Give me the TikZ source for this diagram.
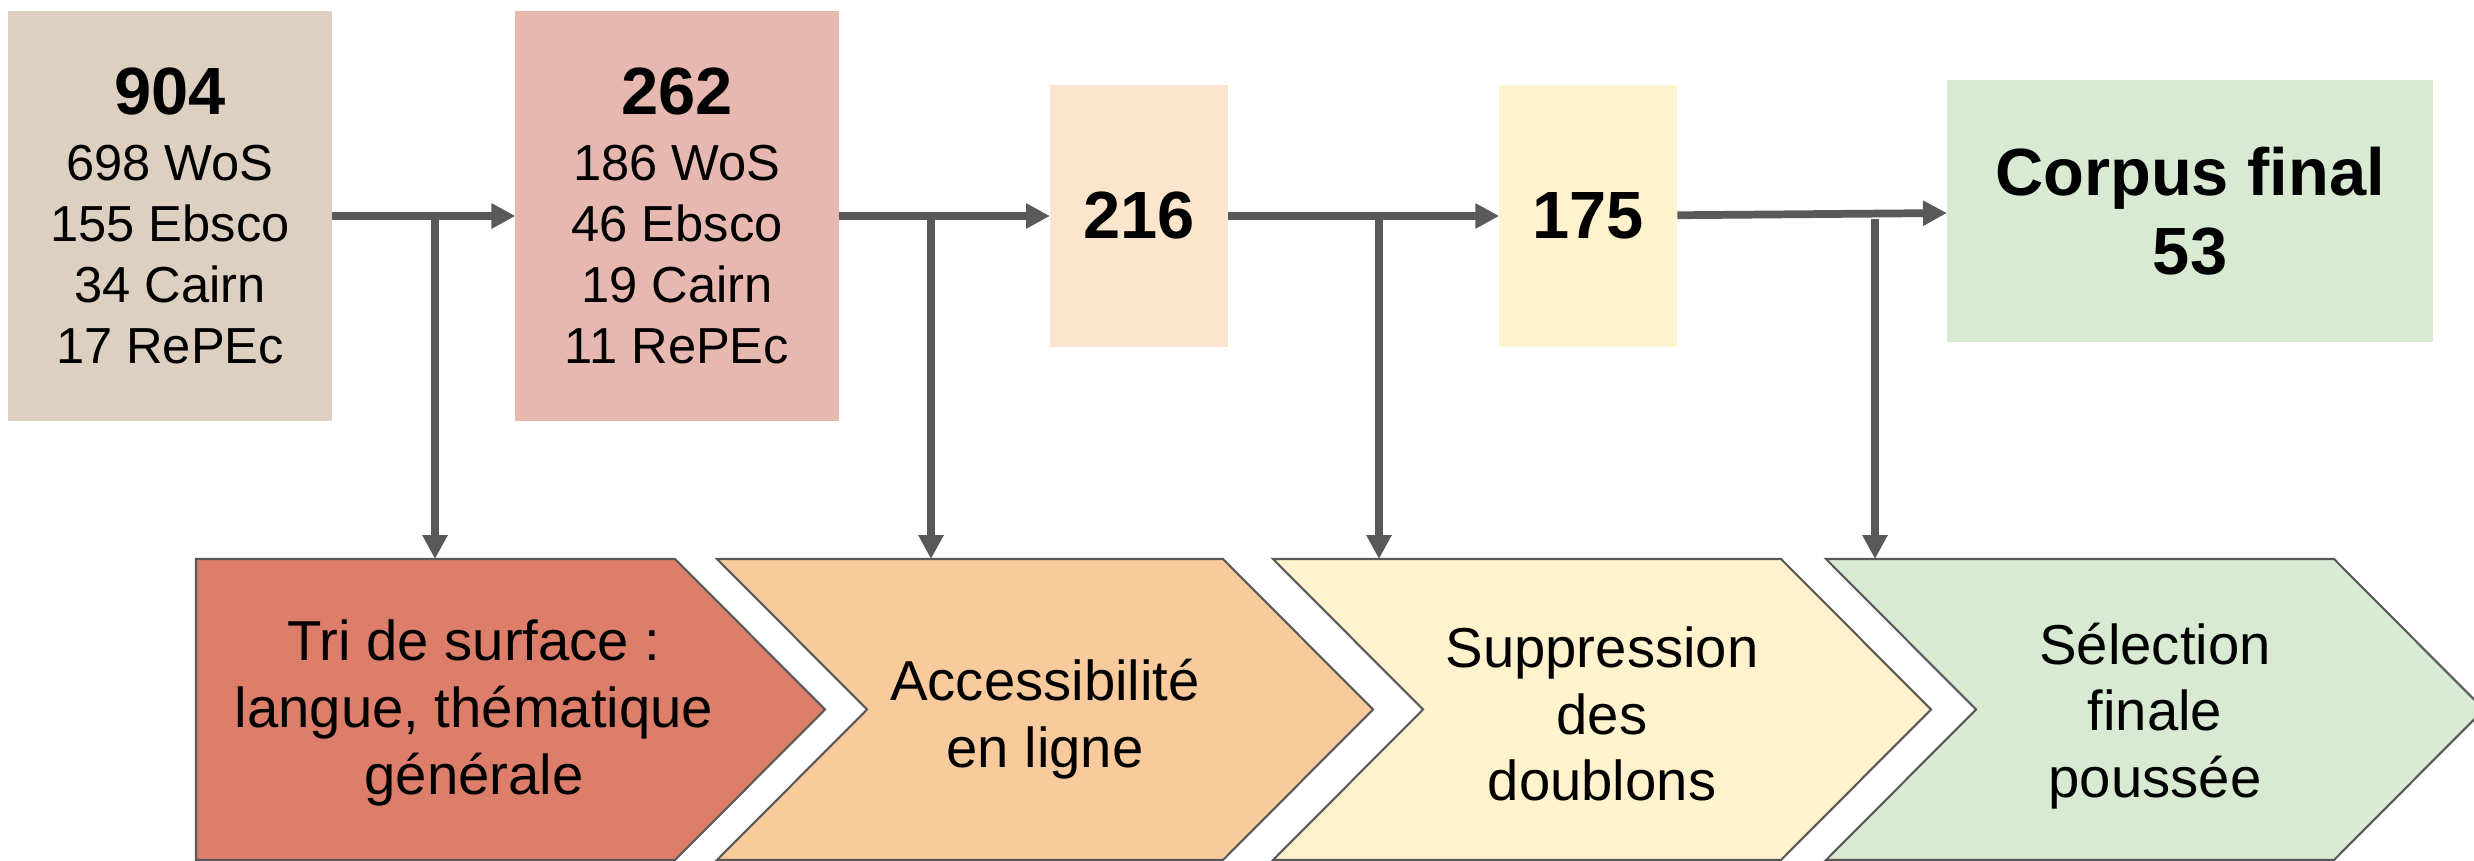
\documentclass[tikz,border=0pt]{standalone}
\usepackage{fontspec}
\setmainfont{Liberation Sans}
\usetikzlibrary{positioning,arrows.meta}
\definecolor{arrowgray}{HTML}{595959}
\definecolor{sand}{HTML}{DDD0C0}
\definecolor{berry}{HTML}{E6B8AF}
\definecolor{peach}{HTML}{FCE5CD}
\definecolor{cream}{HTML}{FFF2CC}
\definecolor{mint}{HTML}{D9EAD3}
\definecolor{brick}{HTML}{DD7E6B}
\definecolor{apricot}{HTML}{F9CB9C}

\begin{document}
\begin{tikzpicture}[x=0.01cm,y=-0.01cm,
		countbox/.style={rectangle,inner sep=0pt,outer sep=0pt,align=center,font=\fontsize{14.4}{17.4}\selectfont},
		bignum/.style={font=\fontsize{19}{22.5}\selectfont\bfseries},
		flow/.style={draw=arrowgray,line width=2.2pt,-{Triangle[length=6.8pt,width=6.8pt]}},
		stage/.style={draw=arrowgray,line width=0.6pt},
		stagetext/.style={align=center,font=\fontsize{16}{19}\selectfont}]
		\useasboundingbox (0,0) rectangle (2474,861);
		%%%%%%%%%%%%%%%%% counts %%%%%%%%%%%%%%%%%%%
		\node[countbox,fill=sand,minimum width=3.23cm,minimum height=4.1cm] (n904) at (170,216)
		{{\fontsize{19}{19}\selectfont\bfseries 904}\\[1.3pt]698 WoS\\155 Ebsco\\34 Cairn\\17 RePEc};
		\node[countbox,fill=berry,minimum width=3.23cm,minimum height=4.1cm] (n262) at (677,216)
		{{\fontsize{19}{19}\selectfont\bfseries 262}\\[1.3pt]186 WoS\\46 Ebsco\\19 Cairn\\11 RePEc};
		\node[countbox,bignum,fill=peach,minimum width=1.78cm,minimum height=2.62cm] (n216) at (1139,216) {216};
		\node[countbox,bignum,fill=cream,minimum width=1.78cm,minimum height=2.62cm,right=2.71cm of n216] (n175) {175};
		\node[countbox,bignum,fill=mint,minimum width=4.86cm,minimum height=2.62cm] (n53) at (2190,211)
		{Corpus final\\53};
		
		%%%%%%%%%%%%%%%%% stages %%%%%%%%%%%%%%%%%%%
		% first stage has a flat left side
		\filldraw[stage,fill=brick] (196,559) -- (675,559) -- (825,709.5) -- (675,860) -- (196,860) -- cycle;
		\coordinate (k1) at (196,559);
		\node[stagetext] (c1) at (474,713) {Tri de surface :\\langue, thématique\\générale};
		\foreach \l/\r/\col/\dy/\txt [count=\i from 2] in
		{717/1223/apricot/719/{Accessibilité\\en ligne},
			1273/1781/cream/714/{Suppression\\des\\doublons},
			1826/2334/mint/716/{Sélection\\finale\\poussée}}
		{\filldraw[stage,fill=\col] (\l,559) -- (\r,559) -- (\r+150,709.5) -- (\r,860)
			-- (\l,860) -- (\l+150,709.5) -- cycle;
			\coordinate (k\i) at (\l,559);
			\node[stagetext] (c\i) at ({(\l+\r)/2+75},\dy) {\txt};}
		
		%%%%%%%%%%%%%%%%% arrows %%%%%%%%%%%%%%%%%%%
		\draw[flow] (n904) -- (n262);
		\draw[flow] (n262) -- (n216);
		\draw[flow] (n216) -- (n175);
		\draw[flow] (n175) -- (n53);
		
		\foreach \x [count=\i] in {435,931,1379,1875}
		{\coordinate (s\i) at (\x,219);
			\draw[flow] (s\i) -- (s\i |- k\i);}
	\end{tikzpicture}
\end{document}
